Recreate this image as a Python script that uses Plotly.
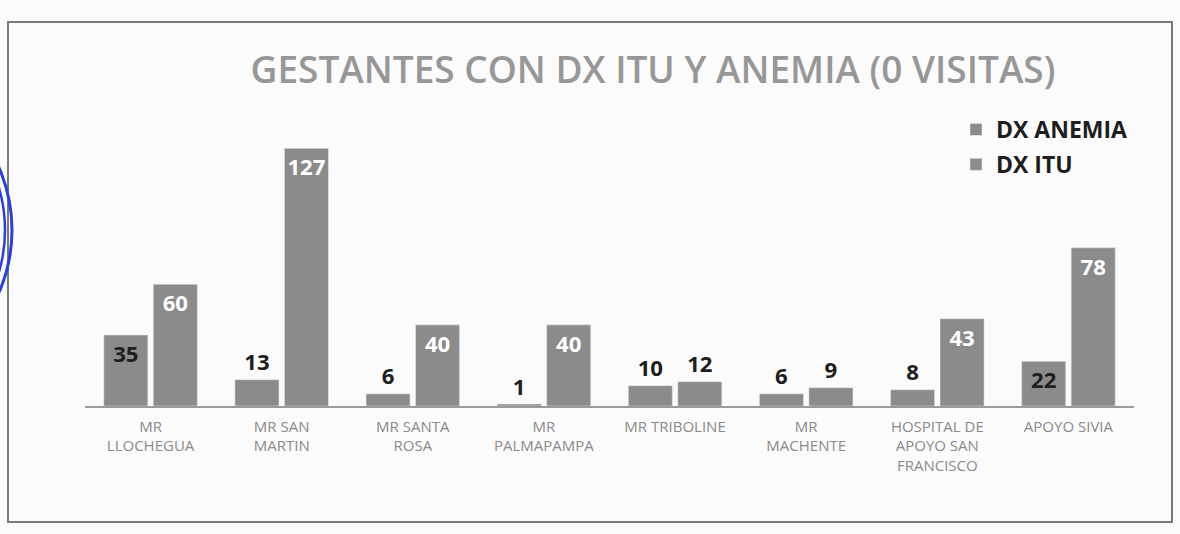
import plotly.graph_objects as go

categories = ["MR<br>LLOCHEGUA", "MR SAN<br>MARTIN", "MR SANTA<br>ROSA", "MR<br>PALMAPAMPA",
              "MR TRIBOLINE", "MR<br>MACHENTE", "HOSPITAL DE<br>APOYO SAN<br>FRANCISCO", "APOYO SIVIA"]
dx_anemia = [35, 13, 6, 1, 10, 6, 8, 22]
dx_itu = [60, 127, 40, 40, 12, 9, 43, 78]

W, H = 1180, 534
L, R, T, B = 85, 46, 122, 128
PW, PH = W - L - R, H - T - B

def px_x(p):
    return (p - L) / PW

def px_y(p):
    return (H - B - p) / PH

BAR = "#8b8b8b"
DARK = "#1e1e1e"
FONT = "Open Sans"

def positions(vals, limit):
    return ["inside" if v >= limit else "outside" for v in vals]

lblfont = dict(size=24, family=FONT, weight="bold")

fig = go.Figure()
fig.add_trace(go.Bar(
    name="DX ANEMIA", x=categories, y=dx_anemia, marker_color=BAR,
    text=dx_anemia, textposition=positions(dx_anemia, 20), textangle=0,
    insidetextfont=dict(color=DARK, **lblfont),
    outsidetextfont=dict(color=DARK, **lblfont),
    legendgroup="a", cliponaxis=False, hoverinfo="skip",
))
fig.add_trace(go.Bar(
    name="DX ITU", x=categories, y=dx_itu, marker_color=BAR,
    text=dx_itu, textposition=positions(dx_itu, 20), textangle=0,
    insidetextfont=dict(color="white", **lblfont),
    outsidetextfont=dict(color=DARK, **lblfont),
    legendgroup="b", cliponaxis=False, hoverinfo="skip",
))

# border of chart area and the blue ink stamp visible at the left edge of the scan
shapes = [dict(type="rect", xref="paper", yref="paper",
               x0=px_x(8), x1=px_x(1172), y0=px_y(522), y1=px_y(22),
               line=dict(color="#7a7a7a", width=2), fillcolor="rgba(0,0,0,0)", layer="below")]
for r, w in [(156, 3), (149, 2.5)]:
    cx, cy = -144, 230
    shapes.append(dict(type="circle", xref="paper", yref="paper",
                       x0=px_x(cx - r), x1=px_x(cx + r), y0=px_y(cy + r), y1=px_y(cy - r),
                       line=dict(color="#2c3fd6", width=w), fillcolor="rgba(0,0,0,0)"))

fig.update_layout(
    width=W, height=H,
    margin=dict(l=L, r=R, t=T, b=B),
    paper_bgcolor="#fbfbfb", plot_bgcolor="rgba(0,0,0,0)",
    barmode="group", bargap=0.245, bargroupgap=0.11,
    uniformtext=dict(minsize=10, mode="show"),
    font=dict(family=FONT),
    title=dict(text="GESTANTES CON DX ITU Y ANEMIA (0 VISITAS)",
               font=dict(family=FONT, size=37, color="#979797", weight=600),
               x=653 / W, xanchor="center", y=1 - 70 / H, yanchor="middle"),
    legend=dict(x=px_x(956), y=px_y(108), xanchor="left", yanchor="top",
                font=dict(family=FONT, size=23, color=DARK, weight="bold"),
                tracegroupgap=2, bgcolor="rgba(0,0,0,0)", itemwidth=30),
    showlegend=True,
    shapes=shapes,
)
fig.update_xaxes(showline=True, linecolor="#9a9a9a", linewidth=1.5, ticks="",
                 ticklabelstandoff=6,
                 tickfont=dict(family=FONT, size=15, color="#8a8a8a"), showgrid=False)
fig.update_yaxes(range=[0, 140], visible=False, showgrid=False, zeroline=False)

fig.write_html("out.html", config={"displayModeBar": False},
               post_script="document.body.style.margin='0px';")
